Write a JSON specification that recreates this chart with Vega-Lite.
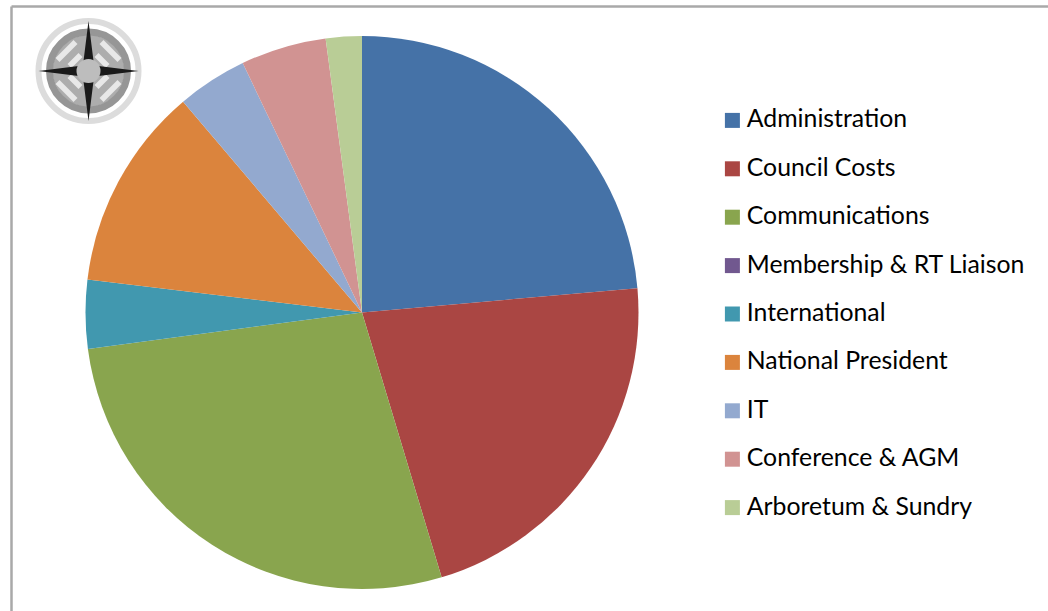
{
"$schema":"https://vega.github.io/schema/vega-lite/v6.json",
"width":1037,"height":605,
"padding":{"left":11,"top":6,"right":0,"bottom":0},
"autosize":{"type":"none"},
"background":"white",
"config":{"view":{"stroke":null}},
"layer":[
{"data":{"values":[
{"category":"Administration","share":23.6,"rank":1},
{"category":"Council Costs","share":21.75,"rank":2},
{"category":"Communications","share":27.55,"rank":3},
{"category":"Membership & RT Liaison","share":0,"rank":4},
{"category":"International","share":4.0,"rank":5},
{"category":"National President","share":11.9,"rank":6},
{"category":"IT","share":4.1,"rank":7},
{"category":"Conference & AGM","share":5.0,"rank":8},
{"category":"Arboretum & Sundry","share":2.1,"rank":9}
]},
"mark":{"type":"arc","outerRadius":276.5},
"encoding":{
 "x":{"datum":351,"type":"quantitative","scale":{"domain":[0,1037],"nice":false},"axis":{"orient":"top","domainColor":"#a9a9a9","domainWidth":2.5,"ticks":false,"labels":false,"grid":false,"title":null}},
 "y":{"datum":306.5,"type":"quantitative","scale":{"domain":[605,0],"nice":false},"axis":{"orient":"left","domainColor":"#a9a9a9","domainWidth":2.5,"ticks":false,"labels":false,"grid":false,"title":null}},
 "theta":{"field":"share","type":"quantitative","stack":true},
 "order":{"field":"rank","type":"quantitative"},
 "color":{"field":"category","type":"nominal",
  "scale":{"domain":["Administration","Council Costs","Communications","Membership & RT Liaison","International","National President","IT","Conference & AGM","Arboretum & Sundry"],
  "range":["#4572A7","#AA4643","#89A54E","#71588F","#4198AF","#DB843D","#93A9CF","#D19392","#B9CD96"]},
  "legend":{"orient":"none","legendX":709,"legendY":102,"title":null,"symbolType":"square","symbolSize":225,"symbolStrokeWidth":0,"labelFont":"Lato","labelFontSize":24.8,"labelColor":"#000000","labelOffset":2,"labelLimit":320,"rowPadding":22.4,"padding":0,"symbolOpacity":1}}
}},
{"data":{"values":[{"part":"logo"}]},
 "encoding":{
  "x":{"datum":77.5,"type":"quantitative","scale":{"domain":[0,1037],"nice":false}},
  "y":{"datum":65,"type":"quantitative","scale":{"domain":[605,0],"nice":false}}
 },
 "layer":[
  {"mark":{"type":"point","shape":"circle","size":10000,"filled":false,"stroke":"#dcdcdc","strokeWidth":6,"opacity":1}},
  {"mark":{"type":"point","shape":"circle","size":5184,"filled":true,"fill":"#adadad","opacity":1}},
  {"mark":{"type":"point","shape":"circle","size":6084,"filled":false,"stroke":"#969696","strokeWidth":7,"opacity":1}},
  {"mark":{"type":"point","size":10000,"filled":true,"fill":"#e8e8e8","opacity":1,"strokeWidth":0,"shape":"M.3,-.62 L.66,-.26 L.58,-.18 L.22,-.54 Z M.2,-.36 L.42,-.14 L.34,-.06 L.12,-.28 Z M-.3,.62 L-.66,.26 L-.58,.18 L-.22,.54 Z M-.2,.36 L-.42,.14 L-.34,.06 L-.12,.28 Z M-.3,-.62 L-.66,-.26 L-.58,-.18 L-.22,-.54 Z M-.2,-.36 L-.42,-.14 L-.34,-.06 L-.12,-.28 Z M.3,.62 L.66,.26 L.58,.18 L.22,.54 Z M.2,.36 L.42,.14 L.34,.06 L.12,.28 Z"}},
  {"mark":{"type":"point","size":10000,"filled":true,"fill":"#1a1a1a","opacity":1,"strokeWidth":0,"shape":"M0,-1 L.1,-.2 L.2,-.1 L1,0 L.2,.1 L.1,.2 L0,1 L-.1,.2 L-.2,.1 L-1,0 L-.2,-.1 L-.1,-.2 Z"}},
  {"mark":{"type":"point","shape":"circle","size":576,"filled":true,"fill":"#bdbdbd","opacity":1}}
 ]}
]
}
